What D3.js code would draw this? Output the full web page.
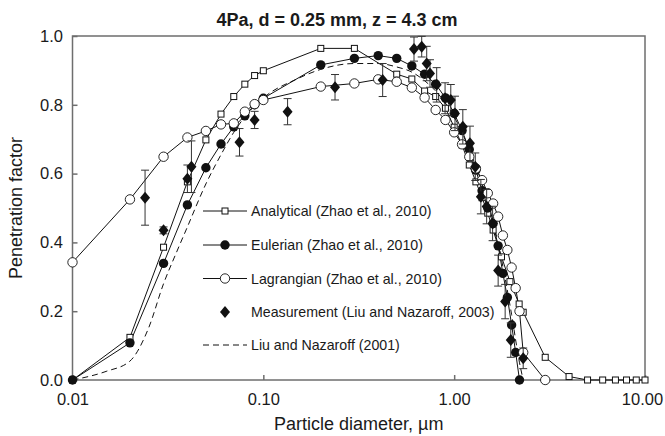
<!DOCTYPE html>
<html><head><meta charset="utf-8">
<script src="https://cdn.jsdelivr.net/npm/d3@7"></script>
<style>body{margin:0;background:#fff}svg{display:block}text{font-family:"Liberation Sans",Arial,sans-serif}</style>
</head><body><svg id="c" width="665" height="436"></svg>
<script>
// ---------- data ----------
const anaD = [0.01,0.02,0.03,0.04,0.05,0.06,0.07,0.08,0.09,0.1,0.2,0.3,0.5,0.6,0.7,0.8,0.9,1.0,1.1,1.2,1.3,1.4,1.5,1.6,1.77,1.96,2.19,2.3,3,4,5,6,7,8,9,10];
const anaV = [0,0.124,0.386,0.576,0.698,0.773,0.824,0.86,0.885,0.899,0.964,0.964,0.889,0.875,0.84,0.824,0.79,0.735,0.683,0.625,0.576,0.53,0.485,0.436,0.358,0.286,0.221,0.197,0.066,0.01,0,0,0,0,0,0];

const eulD = [0.01,0.02,0.03,0.04,0.05,0.06,0.07,0.08,0.09,0.1,0.2,0.3,0.4,0.5,0.6,0.7,0.8,0.9,1.0,1.1,1.2,1.3,1.4,1.5,1.6,1.7,1.8,1.9,2.0,2.1,2.2];
const eulV = [0,0.108,0.339,0.509,0.617,0.686,0.736,0.768,0.80,0.819,0.916,0.935,0.943,0.935,0.913,0.889,0.86,0.82,0.775,0.725,0.67,0.61,0.55,0.50,0.455,0.39,0.31,0.24,0.16,0.08,0.0];

const lagD = [0.01,0.02,0.03,0.04,0.05,0.06,0.07,0.08,0.09,0.1,0.2,0.3,0.4,0.5,0.6,0.7,0.8,0.9,1.0,1.1,1.2,1.3,1.4,1.5,1.6,1.7,1.8,1.9,2.0,2.1,2.2,2.3,3.0];
const lagV = [0.342,0.525,0.649,0.705,0.724,0.743,0.746,0.78,0.802,0.814,0.853,0.862,0.874,0.867,0.85,0.821,0.785,0.756,0.72,0.685,0.649,0.615,0.581,0.543,0.513,0.475,0.42,0.378,0.327,0.267,0.2,0.08,0.0];

const meaD = [0.024,0.030,0.040,0.042,0.075,0.09,0.134,0.2375,0.422,0.616,0.676,0.718,0.747,0.81,0.896,0.96,1.01,1.11,1.21,1.29,1.38,1.48,1.59,1.70,1.85,1.98,2.30];
const meaV = [0.53,0.435,0.585,0.62,0.691,0.756,0.78,0.851,0.872,0.962,0.969,0.92,0.891,0.858,0.819,0.814,0.775,0.736,0.688,0.62,0.533,0.504,0.455,0.318,0.228,0.116,0.063];
const meaE = [0.08,0.01,0.04,0.075,0.04,0.025,0.038,0.037,0.048,0.035,0.03,0.05,0.04,0.05,0.045,0.045,0.05,0.05,0.05,0.04,0.05,0.05,0.05,0.045,0.05,0.05,0.03];

const lnD = [0.01,0.015,0.02,0.025,0.03,0.035,0.04,0.05,0.06,0.07,0.08,0.1,0.15,0.2,0.3,0.4,0.5,0.6,0.7,0.8,0.9,1.0,1.2,1.4,1.6,1.8,2.0,2.2,2.3];
const lnV = [0,0.025,0.055,0.15,0.28,0.37,0.445,0.57,0.655,0.72,0.765,0.82,0.875,0.903,0.92,0.92,0.91,0.895,0.87,0.84,0.805,0.765,0.67,0.57,0.46,0.33,0.19,0.05,0.0];

const xTicks = [0.01,0.1,1,10];
const xTickLabels = ["0.01","0.10","1.00","10.00"];
const yTicks = [0,0.2,0.4,0.6,0.8,1.0];
const yTickLabels = ["0.0","0.2","0.4","0.6","0.8","1.0"];
const legendLabels = ["Analytical (Zhao et al., 2010)","Eulerian (Zhao et al., 2010)","Lagrangian (Zhao et al., 2010)","Measurement (Liu and Nazaroff, 2003)","Liu and Nazaroff (2001)"];
const titleText = "4Pa, d = 0.25 mm, z = 4.3 cm";
const xTitle = "Particle diameter, µm";
const yTitle = "Penetration factor";

// ---------- drawing ----------
const svg = d3.select("#c");
const L = 72.5, R = 645, T = 36, B = 380;
const x = d3.scaleLog().domain([0.01,10]).range([L,R]);
const y = d3.scaleLinear().domain([0,1]).range([B,T]);
const axisCol = "#6e6e6e";

const xa = svg.append("g").attr("transform",`translate(0,${B})`)
  .call(d3.axisBottom(x).tickValues(xTicks).tickFormat((d,i)=>xTickLabels[i]).tickSizeInner(-5).tickSizeOuter(0).tickPadding(13));
const ya = svg.append("g").attr("transform",`translate(${L},0)`)
  .call(d3.axisLeft(y).tickValues(yTicks).tickFormat((d,i)=>yTickLabels[i]).tickSizeInner(-5).tickSizeOuter(0).tickPadding(9.5));
[xa,ya].forEach(a=>{
  a.select(".domain").remove();
  a.selectAll(".tick line").attr("stroke",axisCol).attr("stroke-width",1.5);
  a.selectAll(".tick text").attr("font-size",16.5).attr("fill","#1a1a1a").style("font-family","'Liberation Sans',Arial,sans-serif");
});
xa.selectAll(".tick text").filter((d,i)=>i===xTicks.length-1).attr("dx",-3);
svg.append("rect").attr("x",L).attr("y",T).attr("width",R-L).attr("height",B-T)
  .attr("fill","none").attr("stroke",axisCol).attr("stroke-width",1.5);

svg.append("text").attr("x",337).attr("y",25.5).attr("text-anchor","middle")
  .attr("font-size",18).attr("font-weight","bold").attr("fill","#1a1a1a").text(titleText);
svg.append("text").attr("x",(L+R)/2).attr("y",429.5).attr("text-anchor","middle")
  .attr("font-size",18).attr("fill","#1a1a1a").text(xTitle);
svg.append("text").attr("transform",`translate(22,${(T+B)/2}) rotate(-90)`).attr("text-anchor","middle")
  .attr("font-size",18).attr("fill","#1a1a1a").text(yTitle);

const line = d3.line().x(d=>x(d[0])).y(d=>y(d[1]));
const zip = (a,b)=>a.map((v,i)=>[v,b[i]]);
const plot = svg.append("g");

// dashed Liu & Nazaroff 2001
plot.append("path").datum(zip(lnD,lnV)).attr("d",line.curve(d3.curveMonotoneX))
  .attr("fill","none").attr("stroke","#111").attr("stroke-width",1).attr("stroke-dasharray","6,4");
line.curve(d3.curveLinear);

// series lines
[[anaD,anaV],[eulD,eulV],[lagD,lagV]].forEach(s=>{
  plot.append("path").datum(zip(s[0],s[1])).attr("d",line).attr("fill","none").attr("stroke","#111").attr("stroke-width",1);
});

// markers
const sq = 6, cr = 4.7;
plot.selectAll(".ana").data(zip(anaD,anaV)).join("rect")
  .attr("x",d=>x(d[0])-sq/2).attr("y",d=>y(d[1])-sq/2).attr("width",sq).attr("height",sq)
  .attr("fill","#fff").attr("stroke","#111").attr("stroke-width",1);
plot.selectAll(".eul").data(zip(eulD,eulV)).join("circle")
  .attr("cx",d=>x(d[0])).attr("cy",d=>y(d[1])).attr("r",cr).attr("fill","#111");
plot.selectAll(".lag").data(zip(lagD,lagV)).join("circle")
  .attr("cx",d=>x(d[0])).attr("cy",d=>y(d[1])).attr("r",cr).attr("fill","#fff").attr("stroke","#111").attr("stroke-width",0.9);

// measurement with error bars
const mea = meaD.map((d,i)=>({d, v:meaV[i], e:meaE[i]}));
const eb = plot.append("g").attr("stroke","#333").attr("stroke-width",1);
mea.forEach(m=>{
  const cx = x(m.d);
  eb.append("line").attr("x1",cx).attr("x2",cx).attr("y1",y(m.v+m.e)).attr("y2",y(m.v-m.e));
  eb.append("line").attr("x1",cx-4).attr("x2",cx+4).attr("y1",y(m.v+m.e)).attr("y2",y(m.v+m.e));
  eb.append("line").attr("x1",cx-4).attr("x2",cx+4).attr("y1",y(m.v-m.e)).attr("y2",y(m.v-m.e));
});
const dia = "M0,-6L5,0L0,6L-5,0Z";
plot.selectAll(".mea").data(mea).join("path")
  .attr("transform",m=>`translate(${x(m.d)},${y(m.v)})`).attr("d",dia).attr("fill","#111");

// legend
const lg = svg.append("g");
const rowY = [211,245,278.5,312,345];
const lx0 = 203, lx1 = 247, lm = 225, tx = 251;
legendLabels.forEach((t,i)=>{
  const yy = rowY[i];
  if(i<3) lg.append("line").attr("x1",lx0).attr("x2",lx1).attr("y1",yy).attr("y2",yy).attr("stroke","#111").attr("stroke-width",1);
  if(i===4) lg.append("line").attr("x1",lx0).attr("x2",lx1).attr("y1",yy).attr("y2",yy).attr("stroke","#111").attr("stroke-width",1).attr("stroke-dasharray","6,4");
  if(i===0) lg.append("rect").attr("x",lm-sq/2).attr("y",yy-sq/2).attr("width",sq).attr("height",sq).attr("fill","#fff").attr("stroke","#111");
  if(i===1) lg.append("circle").attr("cx",lm).attr("cy",yy).attr("r",cr).attr("fill","#111");
  if(i===2) lg.append("circle").attr("cx",lm).attr("cy",yy).attr("r",cr).attr("fill","#fff").attr("stroke","#111").attr("stroke-width",0.9);
  if(i===3) lg.append("path").attr("transform",`translate(${lm},${yy})`).attr("d",dia).attr("fill","#111");
  lg.append("text").attr("x",tx).attr("y",yy+5).attr("font-size",14.2).attr("fill","#1a1a1a").text(t);
});
</script></body></html>
